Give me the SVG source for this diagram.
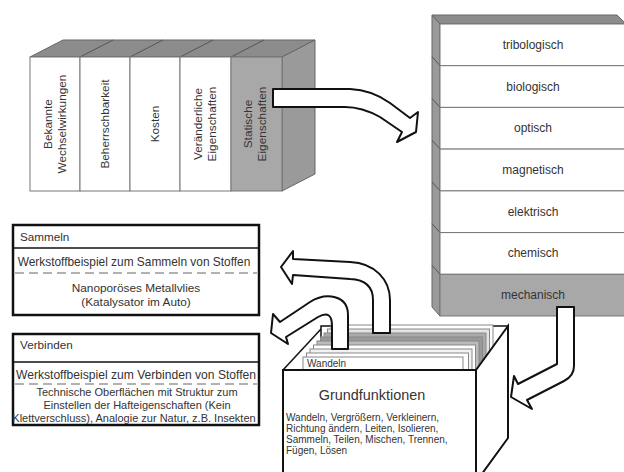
<svg xmlns="http://www.w3.org/2000/svg" width="624" height="472" viewBox="0 0 624 472">
<style>
text{font-family:"Liberation Sans",Arial,sans-serif;fill:#333}
.blk{stroke:#666;stroke-width:1}
.cell{fill:#fff;stroke:#777;stroke-width:1}
.gcell{fill:#a8a8a8;stroke:#777;stroke-width:1}
.t11{font-size:11.7px}
.rt{font-size:11.8px;text-anchor:middle}
.row{font-size:12px;text-anchor:middle}
.box{fill:#fff;stroke:#111;stroke-width:2.5}
.sep{stroke:#111;stroke-width:1.5}
.dash{stroke:#999;stroke-width:1.5;stroke-dasharray:9 5}
.bt{text-anchor:middle}
.h1{font-size:11.9px}
.h2{font-size:12.1px}
.b1{font-size:11.8px}
.b2{font-size:11px}
.arrow{fill:#fff;stroke:#111;stroke-width:2;stroke-linejoin:round}
.card{stroke:#888;stroke-width:1}
.face{fill:#fff;stroke:#111;stroke-width:2}
</style>

<g id="kriterien">
  <polygon class="blk" points="30,57 63,40 315,40 282,57" fill="#8c8c8c"/>
  <g stroke="#555" stroke-width="1">
    <line x1="80" y1="57" x2="113" y2="40"/>
    <line x1="130" y1="57" x2="163" y2="40"/>
    <line x1="180" y1="57" x2="213" y2="40"/>
    <line x1="231" y1="57" x2="264" y2="40"/>
  </g>
  <polygon class="blk" points="282,57 315,40 315,174 282,191" fill="#9a9a9a"/>
  <rect class="cell" x="30" y="57" width="50" height="134"/>
  <rect class="cell" x="80" y="57" width="50" height="134"/>
  <rect class="cell" x="130" y="57" width="50" height="134"/>
  <rect class="cell" x="180" y="57" width="51" height="134"/>
  <rect class="gcell" x="231" y="57" width="51" height="134"/>
  <text class="rt" transform="translate(52,124) rotate(-90)">Bekannte</text>
  <text class="rt" transform="translate(66,124) rotate(-90)">Wechselwirkungen</text>
  <text class="rt" transform="translate(109,124) rotate(-90)">Beherrschbarkeit</text>
  <text class="rt" transform="translate(159,124) rotate(-90)">Kosten</text>
  <text class="rt" transform="translate(202,124) rotate(-90)">Veränderliche</text>
  <text class="rt" transform="translate(216,124) rotate(-90)">Eigenschaften</text>
  <text class="rt" transform="translate(252,124) rotate(-90)">Statische</text>
  <text class="rt" transform="translate(266,124) rotate(-90)">Eigenschaften</text>
</g>

<g id="eigenschaften">
  <polygon class="blk" points="432,15 617,15 626,24 440,24" fill="#8c8c8c"/>
  <polygon class="blk" points="432,15 440,24 440,316 432,307" fill="#9a9a9a"/>
  <g stroke="#555" stroke-width="1">
    <line x1="432" y1="56.7" x2="440" y2="65.7"/>
    <line x1="432" y1="98.4" x2="440" y2="107.4"/>
    <line x1="432" y1="140.1" x2="440" y2="149.1"/>
    <line x1="432" y1="181.9" x2="440" y2="190.9"/>
    <line x1="432" y1="223.6" x2="440" y2="232.6"/>
    <line x1="432" y1="265.3" x2="440" y2="274.3"/>
  </g>
  <rect class="cell" x="440" y="24" width="190" height="41.7"/>
  <rect class="cell" x="440" y="65.7" width="190" height="41.7"/>
  <rect class="cell" x="440" y="107.4" width="190" height="41.7"/>
  <rect class="cell" x="440" y="149.1" width="190" height="41.8"/>
  <rect class="cell" x="440" y="190.9" width="190" height="41.7"/>
  <rect class="cell" x="440" y="232.6" width="190" height="41.7"/>
  <rect class="gcell" x="440" y="274.3" width="190" height="41.7"/>
  <text class="row" x="533" y="49">tribologisch</text>
  <text class="row" x="533" y="90.5">biologisch</text>
  <text class="row" x="533" y="132">optisch</text>
  <text class="row" x="533" y="174">magnetisch</text>
  <text class="row" x="533" y="215.5">elektrisch</text>
  <text class="row" x="533" y="257">chemisch</text>
  <text class="row" x="533" y="299">mechanisch</text>
</g>

<g id="sammeln">
  <rect class="box" x="13" y="225" width="246" height="90"/>
  <line class="sep" x1="13" y1="248" x2="259" y2="248"/>
  <line class="dash" x1="15" y1="273" x2="257" y2="273"/>
  <text class="t11" x="20" y="241">Sammeln</text>
  <text class="bt h1" x="134" y="266">Werkstoffbeispiel zum Sammeln von Stoffen</text>
  <text class="bt b1" x="136" y="292">Nanoporöses Metallvlies</text>
  <text class="bt b1" x="136" y="306">(Katalysator im Auto)</text>
</g>

<g id="verbinden">
  <rect class="box" x="13" y="334" width="246" height="91"/>
  <line class="sep" x1="13" y1="362" x2="259" y2="362"/>
  <line class="dash" x1="15" y1="384" x2="257" y2="384"/>
  <text class="t11" x="20" y="349">Verbinden</text>
  <text class="bt h2" x="136" y="379">Werkstoffbeispiel zum Verbinden von Stoffen</text>
  <text class="bt b2" x="137" y="396">Technische Oberflächen mit Struktur zum</text>
  <text class="bt b2" x="137" y="409">Einstellen der Hafteigenschaften (Kein</text>
  <text class="bt b2" x="134" y="422">Klettverschluss), Analogie zur Natur, z.B. Insekten</text>
</g>

<g id="grundfunktionen-back">
  <rect x="321" y="326" width="187" height="60" fill="#fff" stroke="#111" stroke-width="1.5"/>
  <rect class="card" x="331" y="325" width="162" height="50" fill="#fff"/>
  <rect class="card" x="327.5" y="329" width="162" height="50" fill="#e4e4e4"/>
  <rect class="card" x="324" y="333" width="162" height="50" fill="#aaa"/>
  <rect class="card" x="320.5" y="337" width="162" height="50" fill="#999"/>
  <rect class="card" x="317" y="341" width="162" height="50" fill="#bbb"/>
  <rect class="card" x="313.5" y="345" width="162" height="50" fill="#fff"/>
  <rect class="card" x="310" y="349" width="162" height="50" fill="#f2f2f2"/>
  <rect class="card" x="306.5" y="353" width="162" height="50" fill="#fff"/>
  <rect class="card" x="303" y="357" width="160" height="50" fill="#fff"/>
  <text x="307" y="367" font-size="10">Wandeln</text>
</g>

<g id="connectors">
  <path id="a3" class="arrow" d="M373,333 L373,300 Q373,280 350,279 L293,275 L292,284 L281,267 L293,251 L293,259 L350,262 C375,263 390,280 390,300 L390,333 Z"/>
  <path id="a4" class="arrow" d="M332,349 L332,326 Q332,309 318,317 L286,337 L288,344 L271,333 L273,314 L280,322 L310,302 C326,292 348,295 348,315 L348,349 Z"/>
</g>

<g id="grundfunktionen">
  <polygon class="face" points="476,370 508,326 508,438 476,482"/>
  <line x1="283" y1="370" x2="321" y2="329" stroke="#111" stroke-width="1.5"/>
  <rect class="face" x="283" y="370" width="193" height="110"/>
  <text x="372" y="400" font-size="14.4" text-anchor="middle">Grundfunktionen</text>
  <text x="286" y="421" font-size="10">Wandeln, Vergrößern, Verkleinern,</text>
  <text x="286" y="432" font-size="10">Richtung ändern, Leiten, Isolieren,</text>
  <text x="286" y="443" font-size="10">Sammeln, Teilen, Mischen, Trennen,</text>
  <text x="286" y="454" font-size="10">Fügen, Lösen</text>
</g>

<g id="connectors-top">
  <path id="a1" class="arrow" d="M273,89 L350,89 Q372,90 390,103 L410,118 L418,112 L416,132 L397,142 L402,132 L380,117 Q362,107 345,107 L273,107 Z"/>
  <path id="a2" class="arrow" d="M557,307 L574,307 L574,366 Q574,376 564,381 L527,400 L532,409 L511,397 L514,376 L518,384 L557,364 Z"/>
</g>
</svg>
